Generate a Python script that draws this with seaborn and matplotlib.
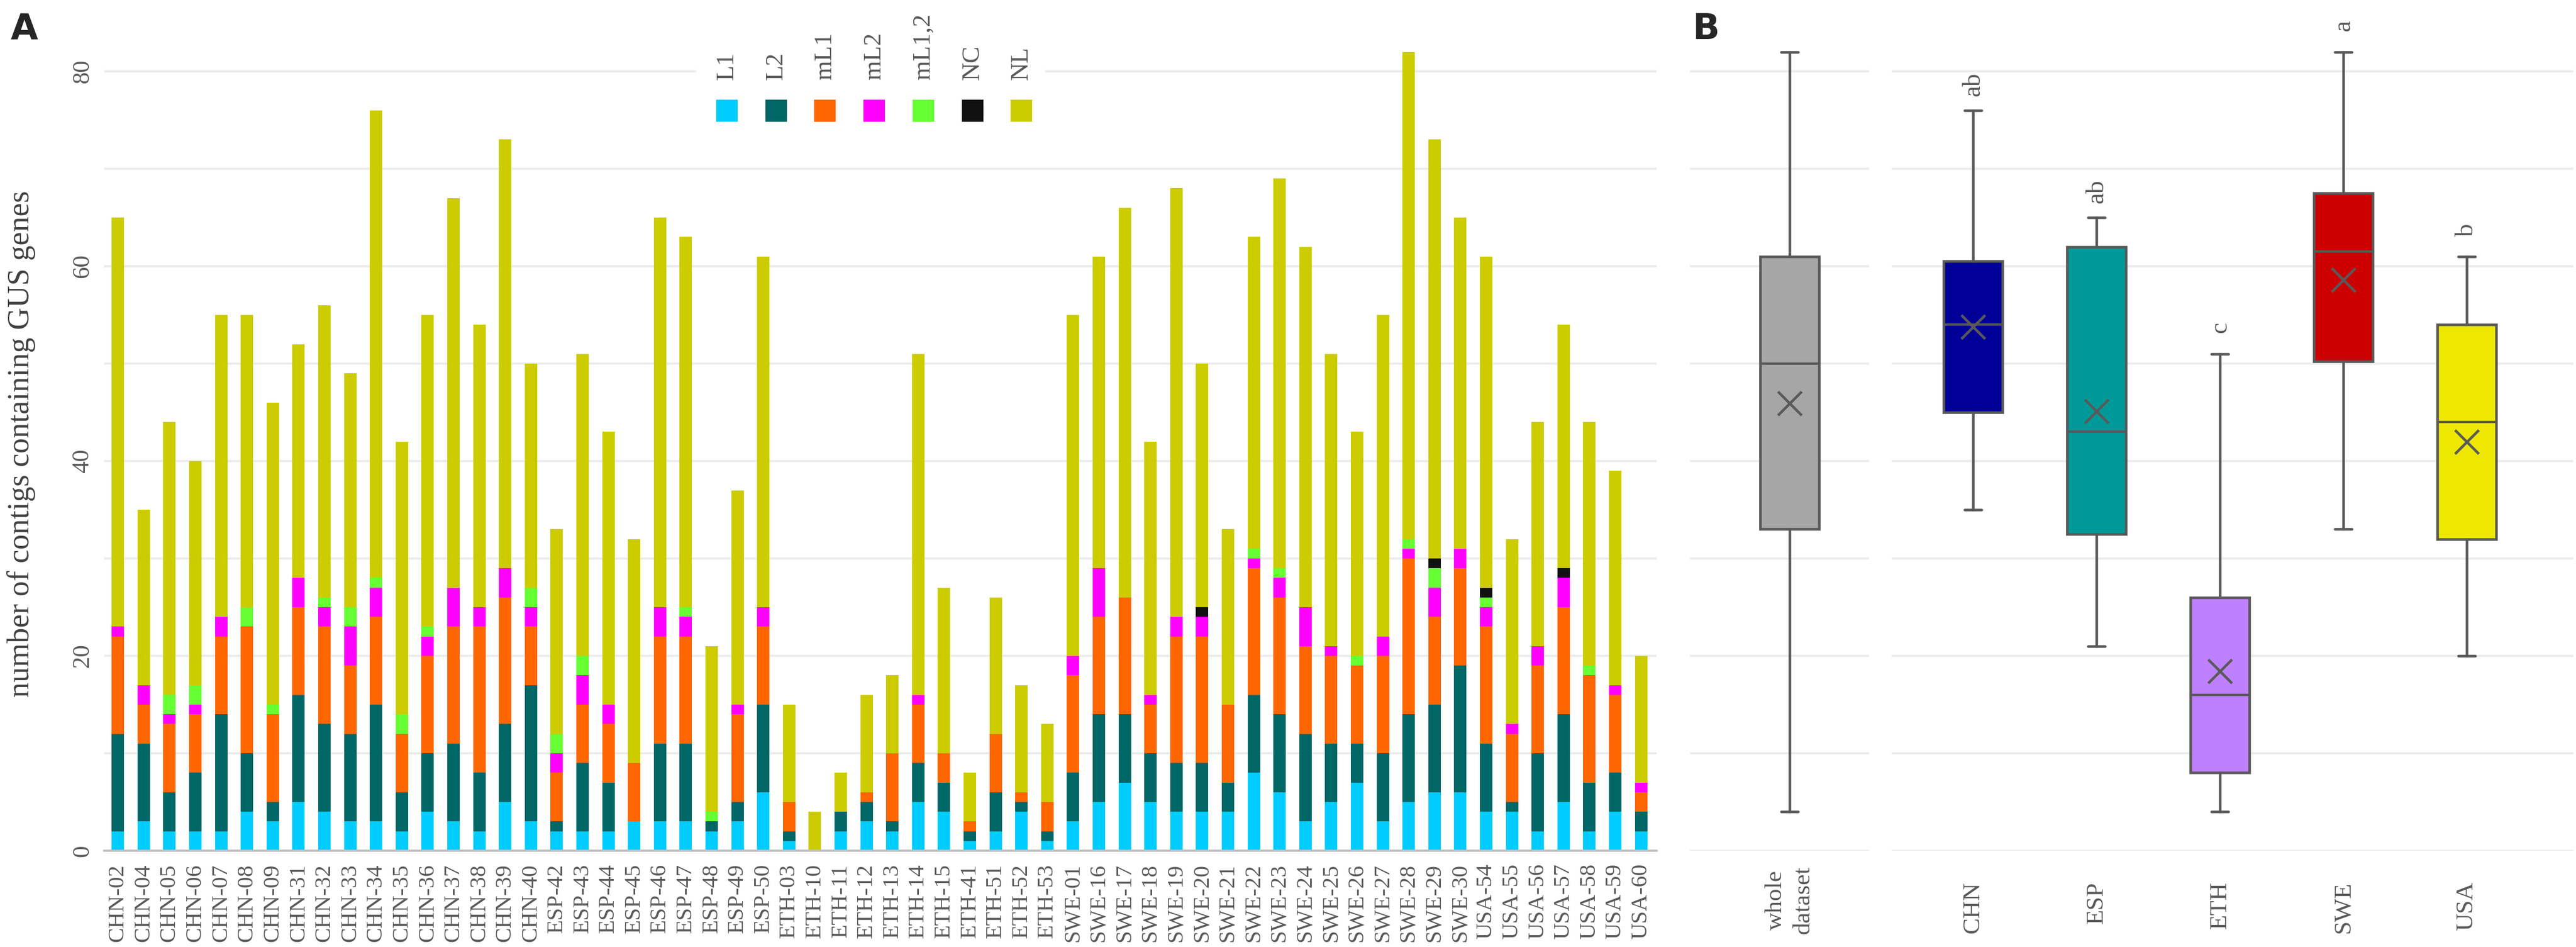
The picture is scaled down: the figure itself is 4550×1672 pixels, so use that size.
import numpy as np
import pandas as pd
import matplotlib
matplotlib.use("Agg")
import matplotlib.pyplot as plt
from matplotlib.patches import Rectangle
import seaborn as sns

# ==========================
# Data
# ==========================

samples = [
    "CHN-02", "CHN-04", "CHN-05", "CHN-06", "CHN-07", "CHN-08", "CHN-09", "CHN-31",
    "CHN-32", "CHN-33", "CHN-34", "CHN-35", "CHN-36", "CHN-37", "CHN-38", "CHN-39",
    "CHN-40",
    "ESP-42", "ESP-43", "ESP-44", "ESP-45", "ESP-46", "ESP-47", "ESP-48", "ESP-49",
    "ESP-50",
    "ETH-03", "ETH-10", "ETH-11", "ETH-12", "ETH-13", "ETH-14", "ETH-15", "ETH-41",
    "ETH-51", "ETH-52", "ETH-53",
    "SWE-01", "SWE-16", "SWE-17", "SWE-18", "SWE-19", "SWE-20", "SWE-21", "SWE-22",
    "SWE-23", "SWE-24", "SWE-25", "SWE-26", "SWE-27", "SWE-28", "SWE-29", "SWE-30",
    "USA-54", "USA-55", "USA-56", "USA-57", "USA-58", "USA-59", "USA-60",
]

L1 = [2, 3, 2, 2, 2, 4, 3, 5, 4, 3, 3, 2, 4, 3, 2, 5, 3,
      2, 2, 2, 3, 3, 3, 2, 3, 6,
      1, 0, 2, 3, 2, 5, 4, 1, 2, 4, 1,
      3, 5, 7, 5, 4, 4, 4, 8, 6, 3, 5, 7, 3, 5, 6, 6,
      4, 4, 2, 5, 2, 4, 2]
L2 = [10, 8, 4, 6, 12, 6, 2, 11, 9, 9, 12, 4, 6, 8, 6, 8, 14,
      1, 7, 5, 0, 8, 8, 1, 2, 9,
      1, 0, 2, 2, 1, 4, 3, 1, 4, 1, 1,
      5, 9, 7, 5, 5, 5, 3, 8, 8, 9, 6, 4, 7, 9, 9, 13,
      7, 1, 8, 9, 5, 4, 2]
mL1 = [10, 4, 7, 6, 8, 13, 9, 9, 10, 7, 9, 6, 10, 12, 15, 13, 6,
       5, 6, 6, 6, 11, 11, 0, 9, 8,
       3, 0, 0, 1, 7, 6, 3, 1, 6, 1, 3,
       10, 10, 12, 5, 13, 13, 8, 13, 12, 9, 9, 8, 10, 16, 9, 10,
       12, 7, 9, 11, 11, 8, 2]
mL2 = [1, 2, 1, 1, 2, 0, 0, 3, 2, 4, 3, 0, 2, 4, 2, 3, 2,
       2, 3, 2, 0, 3, 2, 0, 1, 2,
       0, 0, 0, 0, 0, 1, 0, 0, 0, 0, 0,
       2, 5, 0, 1, 2, 2, 0, 1, 2, 4, 1, 0, 2, 1, 3, 2,
       2, 1, 2, 3, 0, 1, 1]
mL12 = [0, 0, 2, 2, 0, 2, 1, 0, 1, 2, 1, 2, 1, 0, 0, 0, 2,
        2, 2, 0, 0, 0, 1, 1, 0, 0,
        0, 0, 0, 0, 0, 0, 0, 0, 0, 0, 0,
        0, 0, 0, 0, 0, 0, 0, 1, 1, 0, 0, 1, 0, 1, 2, 0,
        1, 0, 0, 0, 1, 0, 0]
NC = [0, 0, 0, 0, 0, 0, 0, 0, 0, 0, 0, 0, 0, 0, 0, 0, 0,
      0, 0, 0, 0, 0, 0, 0, 0, 0,
      0, 0, 0, 0, 0, 0, 0, 0, 0, 0, 0,
      0, 0, 0, 0, 0, 1, 0, 0, 0, 0, 0, 0, 0, 0, 1, 0,
      1, 0, 0, 1, 0, 0, 0]
NL = [42, 18, 28, 23, 31, 30, 31, 24, 30, 24, 48, 28, 32, 40, 29, 44, 23,
      21, 31, 28, 23, 40, 38, 17, 22, 36,
      10, 4, 4, 10, 8, 35, 17, 5, 14, 11, 8,
      35, 32, 40, 26, 44, 25, 18, 32, 40, 37, 30, 23, 33, 50, 43, 34,
      34, 19, 23, 25, 25, 22, 13]

categories = ["L1", "L2", "mL1", "mL2", "mL1,2", "NC", "NL"]
cat_colors = ["#00CCFF", "#006666", "#FF6600", "#FF00FF", "#66FF33", "#111111", "#CCCC00"]

groups = ["CHN", "ESP", "ETH", "SWE", "USA"]
group_colors = ["#000099", "#009999", "#BF80FF", "#CC0000", "#EEE800"]
group_letters = ["ab", "ab", "c", "a", "b"]
whole_label = "whole\ndataset"
whole_color = "#A6A6A6"

# ==========================
# Table
# ==========================

df = pd.DataFrame({
    "sample": samples,
    "L1": L1, "L2": L2, "mL1": mL1, "mL2": mL2,
    "mL1,2": mL12, "NC": NC, "NL": NL,
})
df["country"] = df["sample"].str[:3]

cum = df[categories].cumsum(axis=1)
for cat in categories:
    df["cum_" + cat] = cum[cat]
df["total"] = cum["NL"]


def box_stats(values, label):
    v = np.asarray(values, dtype=float)
    # exclusive quartiles (same as the spreadsheet box plot)
    q1, med, q3 = np.percentile(v, [25, 50, 75], method="weibull")
    iqr = q3 - q1
    lo = v[v >= q1 - 1.5 * iqr].min()
    hi = v[v <= q3 + 1.5 * iqr].max()
    return {
        "label": label, "q1": q1, "med": med, "q3": q3,
        "whislo": lo, "whishi": hi, "mean": v.mean(),
        "fliers": v[(v < lo) | (v > hi)],
    }


# ==========================
# Style
# ==========================

sns.set_theme(style="white")
plt.rcParams["font.family"] = ["Liberation Serif", "DejaVu Serif"]

W, H = 4550, 1672
GRID = "#EBEBEB"
TXT = "#595959"
LINE = "#595959"

fig = plt.figure(figsize=(W / 300, H / 300), dpi=300)

y_bottom = 1 - 1502 / H
y_height = 83.5 * 17.2 / H
YMAX = 83.5

# ==========================
# Panel A : stacked bars
# ==========================

ax = fig.add_axes([184 / W, y_bottom, 2742 / W, y_height])

for cat, col in reversed(list(zip(categories, cat_colors))):
    sns.barplot(
        data=df, x="sample", y="cum_" + cat, order=samples,
        color=col, saturation=1, width=0.48, linewidth=0,
        errorbar=None, ax=ax
    )

ax.set_xlim(-0.53, 59.6)
ax.set_ylim(0, YMAX)
ax.set_yticks([0, 20, 40, 60, 80])
ax.set_yticks([10, 30, 50, 70], minor=True)
ax.grid(which="both", axis="y", color=GRID, linewidth=0.9)
ax.set_axisbelow(True)
for side in ["left", "right", "top"]:
    ax.spines[side].set_visible(False)
ax.spines["bottom"].set_color("#BFBFBF")
ax.spines["bottom"].set_linewidth(0.9)

ax.tick_params(axis="x", rotation=90, labelsize=9.6, colors=TXT, length=0, pad=5.5)
ax.tick_params(axis="y", labelrotation=90, labelsize=10.3, colors=TXT, length=0, pad=4.5)
ax.tick_params(axis="y", which="minor", length=0)
for t in ax.get_yticklabels():
    t.set_va("center")

ax.set_xlabel(None)
ax.set_ylabel("number of contigs containing GUS genes", fontsize=13, color="#404040")
ax.yaxis.set_label_coords(-0.044, 0.5)

# legend: label above each colour square
def fx(px):
    return px / W


def fy(py):
    return 1 - py / H


fig.add_artist(Rectangle((fx(1230), fy(232)), fx(1846) - fx(1230), fy(100) - fy(232),
                         transform=fig.transFigure, facecolor="white",
                         edgecolor="none", zorder=2))
for k, (cat, col) in enumerate(zip(categories, cat_colors)):
    cx = 1284 + 86.7 * k
    fig.add_artist(Rectangle((fx(cx - 19), fy(215)), 38 / W, 39 / H,
                             transform=fig.transFigure, facecolor=col,
                             edgecolor="none", zorder=3))
    fig.text(fx(cx), fy(141), cat, rotation=90, ha="center", va="bottom",
             fontsize=10.7, color=TXT, zorder=3)

# ==========================
# Panel B : box plots
# ==========================

box_kw = dict(
    widths=0.477, patch_artist=True, showmeans=True, showfliers=False,
    capwidths=0.135,
    whiskerprops=dict(color=LINE, linewidth=1.1),
    capprops=dict(color=LINE, linewidth=1.1),
    medianprops=dict(color=LINE, linewidth=1.0),
    meanprops=dict(marker="x", markersize=10, markeredgecolor=LINE,
                   markeredgewidth=1.1, markerfacecolor=LINE),
)

# whole dataset
axw = fig.add_axes([2985 / W, y_bottom, 316 / W, y_height], sharey=ax)
bw = axw.bxp([box_stats(df["total"], whole_label)], positions=[0], **box_kw)
for patch in bw["boxes"]:
    patch.set_facecolor(whole_color)
    patch.set_edgecolor(LINE)
    patch.set_linewidth(1.1)
axw.set_xlim(-0.807, 0.643)

# per country
axc = fig.add_axes([3341 / W, y_bottom, 1204 / W, y_height], sharey=ax)
stats = [box_stats(df.loc[df["country"] == g, "total"], g) for g in groups]
bc = axc.bxp(stats, positions=range(len(groups)), **box_kw)
for patch, col in zip(bc["boxes"], group_colors):
    patch.set_facecolor(col)
    patch.set_edgecolor(LINE)
    patch.set_linewidth(1.1)
for i, (st, letter) in enumerate(zip(stats, group_letters)):
    axc.text(i, st["whishi"] + 2.7, letter, rotation=90, ha="center",
             va="center", fontsize=10.8, color=TXT)
axc.set_xlim(-0.661, 4.862)

for a, pad in [(axw, 6.5), (axc, 13)]:
    a.set_ylim(0, YMAX)
    a.grid(which="both", axis="y", color=GRID, linewidth=0.9)
    a.set_axisbelow(True)
    for side in a.spines:
        a.spines[side].set_visible(False)
    a.tick_params(axis="y", which="both", labelleft=False, length=0)
    a.tick_params(axis="x", rotation=90, labelsize=10.4, colors=TXT, length=0, pad=pad)

for t in axw.get_xticklabels():
    t.set_multialignment("center")
    t.set_linespacing(1.35)

# ==========================
# Panel letters
# ==========================

fig.text(fx(19), fy(69), "A", fontsize=15, fontweight="bold",
         family="DejaVu Sans", va="baseline")
fig.text(fx(2989), fy(69), "B", fontsize=15, fontweight="bold",
         family="DejaVu Sans", va="baseline")

fig.savefig("out.png", dpi=300)
